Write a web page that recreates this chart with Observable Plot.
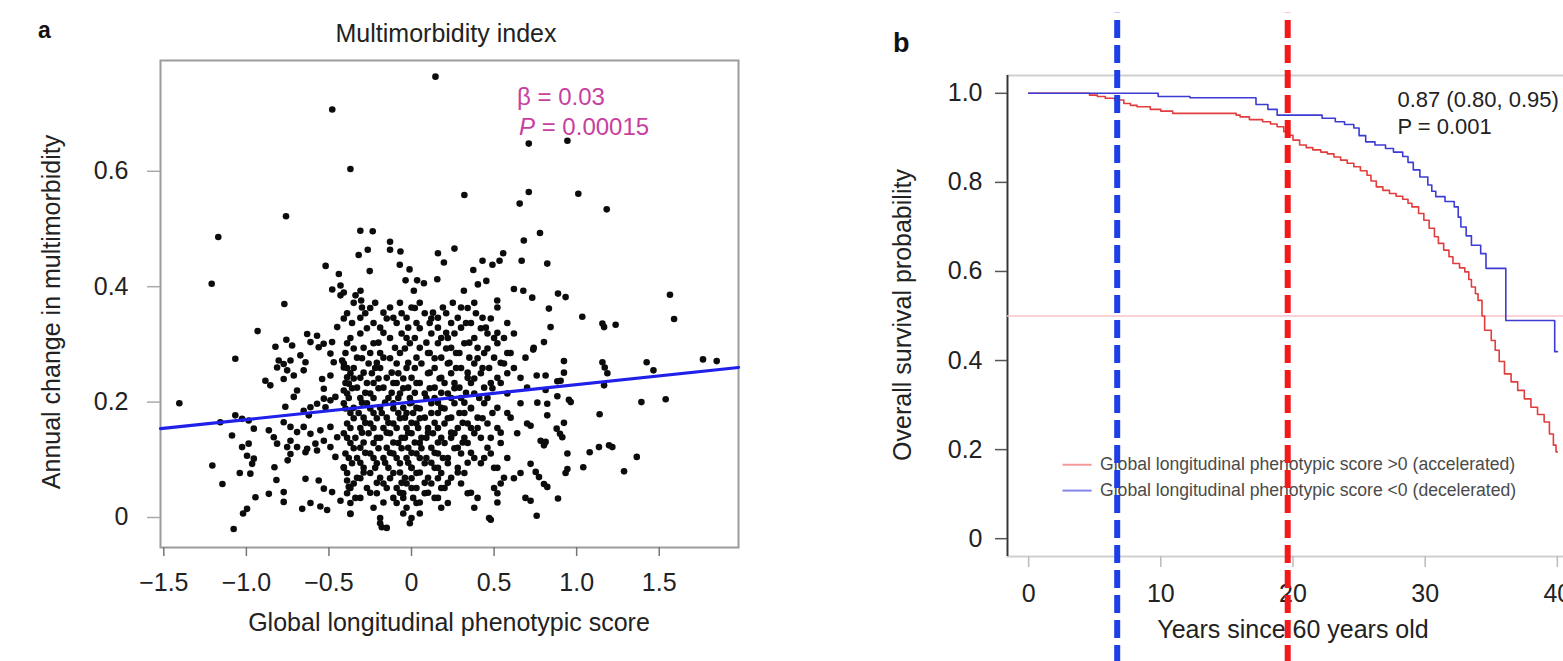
<!DOCTYPE html>
<html><head><meta charset="utf-8">
<script src="https://cdn.jsdelivr.net/npm/d3@7"></script>
<script src="https://cdn.jsdelivr.net/npm/@observablehq/plot@0.6"></script>
<style>
html,body{margin:0;padding:0;background:#fff;overflow:hidden;}
#wrap{position:relative;width:1563px;height:661px;overflow:hidden;font-family:"Liberation Sans",Arial,Helvetica,sans-serif;color:#222;}
.abs{position:absolute;white-space:nowrap;line-height:1;}
.ctr{transform:translate(-50%,-50%);}
.rot{transform:translate(-50%,-50%) rotate(-90deg);}
</style></head><body><div id="wrap"></div>
<script>
// ---------- Panel a data ----------
const scoreTicks = [-1.5, -1, -0.5, 0, 0.5, 1, 1.5];
const changeTicks = [0, 0.2, 0.4, 0.6];
const fitScore = [-1.52, 1.98];
const fitChange = [0.154, 0.260];
const statLines = ["β = 0.03", "P = 0.00015"];

const outlierPoints = [
[-0.48,0.707],[-0.37,0.604],[-0.76,0.522],[-1.17,0.486],[-0.52,0.436],[-0.44,0.422],[-0.43,0.402],[-0.48,0.395],[-0.43,0.385],[-1.21,0.405],[-0.77,0.370],
[0.145,0.764],[0.71,0.648],[0.32,0.559],[0.71,0.564],[0.655,0.544],[-0.31,0.497],[-0.235,0.496],[-0.13,0.478],[-0.13,0.464],[-0.067,0.461],[-0.265,0.464],[-0.32,0.455],[0.16,0.458],[0.26,0.466],[0.196,0.442],[0.555,0.458],[0.533,0.445],[0.49,0.438],[0.43,0.445],[0.374,0.429],[0.68,0.48],[0.778,0.493],[0.667,0.445],[-0.253,0.427],[-0.071,0.438],[-0.012,0.43],[0.156,0.413],[-0.036,0.411],[0.034,0.411],[0.075,0.406],[0.014,0.393],[0.453,0.41],[0.402,0.404],[0.317,0.393],[0.62,0.396],[0.677,0.393],[0.731,0.381],[0.519,0.376],[-0.309,0.393],[-0.339,0.385],[-0.305,0.376],[-0.41,0.39],
[0.944,0.653],[1.01,0.561],[1.182,0.534],[0.822,0.44],[0.887,0.388],[0.933,0.382],[1.565,0.386],[0.832,0.362],
[-0.18,-0.017],[0.48,-0.004]
];
const rightPoints = [
[1.034,0.348],[1.156,0.336],[1.166,0.33],[1.236,0.334],[1.59,0.344],[0.842,0.33],[0.802,0.304],[0.737,0.291],[0.923,0.271],[0.923,0.251],[1.156,0.269],[1.17,0.26],[1.186,0.25],[1.424,0.269],[1.465,0.255],[1.765,0.274],[1.848,0.271],[0.758,0.246],[0.812,0.246],[0.883,0.236],[0.903,0.237],[1.166,0.229],[0.812,0.221],[0.883,0.21],[0.953,0.204],[0.964,0.2],[0.762,0.199],[0.822,0.197],[1.392,0.2],[1.539,0.205],[0.822,0.177],[1.139,0.179],[0.923,0.164],[0.721,0.159],[0.879,0.154],[0.899,0.145],[0.913,0.139],[0.782,0.133],[0.812,0.131],[0.802,0.125],[0.944,0.111],[1.079,0.113],[1.135,0.122],[1.196,0.125],[1.216,0.122],[1.364,0.105],[1.04,0.087],[1.287,0.08],[0.944,0.084],[0.933,0.077],[0.752,0.079],[0.772,0.07],[0.802,0.058],[0.822,0.053],[0.887,0.033],[0.758,0.003],[0.721,0.093],[0.721,0.029]
];
const leftPoints = [
[-0.932,0.323],[-1.067,0.275],[-1.406,0.198],[-0.824,0.296],[-0.758,0.308],[-0.723,0.298],
[-0.632,0.318],[-0.572,0.315],[-0.612,0.304],[-0.562,0.295],[-0.532,0.301],[-0.481,0.304],[-0.491,0.284],[-0.45,0.33],
[-0.804,0.272],[-0.774,0.266],[-0.733,0.272],[-0.814,0.26],[-0.753,0.255],[-0.673,0.281],[-0.642,0.269],[-0.653,0.255],[-0.713,0.246],
[-0.885,0.237],[-0.855,0.229],[-0.774,0.24],[-0.693,0.22],[-0.713,0.209],
[-0.541,0.24],[-0.491,0.246],[-0.531,0.223],[-0.471,0.269],[-0.42,0.272],[-0.41,0.26],
[-0.39,0.243],[-0.38,0.232],[-0.41,0.22],[-0.461,0.209],[-0.491,0.203],[-0.531,0.206],[-0.572,0.197],[-0.521,0.191],[-0.612,0.191],[-0.653,0.185],[-0.622,0.177],
[-0.764,0.192],[-1.067,0.177],[-1.026,0.171],[-0.986,0.168],[-1.158,0.165],[-0.955,0.154],[-0.864,0.151],[-1.087,0.142],
[-0.774,0.165],[-0.733,0.157],[-0.693,0.148],[-0.653,0.157],[-0.612,0.145],[-0.552,0.151],[-0.491,0.157],[-0.45,0.139],[-0.531,0.133],[-0.582,0.128],[-0.632,0.119],[-0.693,0.122],[-0.733,0.133],[-0.753,0.122],[-0.814,0.128],[-0.834,0.139],
[-1.026,0.122],[-0.986,0.128],[-0.996,0.107],[-0.955,0.102],[-0.965,0.093],
[-1.206,0.09],[-1.145,0.058],[-1.04,0.077],[-0.976,0.076],
[-0.83,0.087],[-0.818,0.065],[-0.75,0.099],[-0.733,0.11],[-0.642,0.113],[-0.572,0.116],[-0.491,0.122],[-0.461,0.105],[-0.41,0.087],[-0.39,0.064],
[-0.642,0.067],[-0.562,0.064],[-0.531,0.05],[-0.481,0.044],[-0.43,0.029],[-0.38,0.053],
[-0.945,0.035],[-0.864,0.041],[-0.774,0.044],[-0.774,0.027],
[-0.662,0.015],[-0.612,0.025],[-0.552,0.019],[-0.511,0.013],[-0.37,0.006],
[-0.996,0.015],[-1.02,0.007],[-1.077,-0.02]
];
// dense core, read band by band: [upper change, lower change, [scores...]] (dots alternate between the two levels)
const coreRows = [
[0.372,0.364,[-0.35,-0.30,-0.22,-0.13,-0.07,0.0,0.05,0.19,0.25,0.30,0.38,0.52]],
[0.363,0.355,[-0.25,-0.17,0.02,0.13,0.34]],
[0.354,0.346,[-0.39,-0.31,-0.28,-0.11,-0.06,-0.03,0.08,0.16,0.21,0.28,0.39,0.43]],
[0.345,0.337,[-0.41,-0.23,-0.15,0.03,0.12,0.33,0.48]],
[0.337,0.329,[-0.36,-0.19,-0.09,-0.02,0.11,0.16,0.24,0.30,0.36,0.45,0.58]],
[0.328,0.320,[-0.27,-0.17,0.05,0.21,0.42,0.52]],
[0.319,0.311,[-0.31,-0.13,-0.06,0.02,0.12,0.18,0.26,0.38,0.46,0.56,0.62]],
[0.311,0.303,[-0.37,-0.20,-0.03,0.09,0.22,0.35,0.50]],
[0.302,0.294,[-0.39,-0.29,-0.23,-0.10,-0.01,0.05,0.16,0.24,0.32,0.40,0.52,0.74]],
[0.293,0.285,[-0.35,-0.19,-0.04,0.11,0.21,0.29,0.46,0.58]],
[0.285,0.277,[-0.40,-0.33,-0.25,-0.17,-0.07,0.03,0.10,0.18,0.27,0.35,0.44,0.50,0.60,0.69]],
[0.276,0.268,[-0.30,-0.21,-0.13,-0.02,0.14,0.23,0.40,0.54]],
[0.267,0.259,[-0.41,-0.35,-0.26,-0.19,-0.09,-0.03,0.06,0.14,0.22,0.30,0.38,0.47,0.56,0.62]],
[0.259,0.251,[-0.39,-0.29,-0.22,-0.12,0.02,0.11,0.27,0.34,0.43]],
[0.250,0.242,[-0.37,-0.31,-0.24,-0.15,-0.08,0.0,0.10,0.18,0.24,0.34,0.42,0.52,0.58,0.66]],
[0.241,0.233,[-0.35,-0.27,-0.20,-0.11,-0.05,0.03,0.17,0.26,0.38,0.48]],
[0.233,0.225,[-0.40,-0.33,-0.23,-0.17,-0.09,-0.02,0.05,0.14,0.20,0.29,0.36,0.44,0.54,0.70]],
[0.224,0.216,[-0.36,-0.28,-0.20,-0.12,-0.05,0.02,0.11,0.18,0.26,0.33,0.49]],
[0.215,0.207,[-0.39,-0.31,-0.25,-0.14,-0.07,-0.01,0.08,0.14,0.22,0.30,0.38,0.46,0.58]],
[0.207,0.199,[-0.38,-0.30,-0.23,-0.16,-0.08,0.0,0.09,0.16,0.24,0.32,0.41]],
[0.198,0.190,[-0.41,-0.35,-0.27,-0.19,-0.11,-0.05,-0.01,0.03,0.12,0.18,0.26,0.36,0.44,0.52,0.66]],
[0.189,0.181,[-0.40,-0.32,-0.25,-0.18,-0.11,-0.03,0.05,0.12,0.20,0.29,0.36,0.49]],
[0.181,0.173,[-0.37,-0.29,-0.23,-0.15,-0.08,-0.04,0.01,0.08,0.16,0.24,0.32,0.40,0.58,0.60]],
[0.172,0.164,[-0.35,-0.28,-0.21,-0.14,-0.07,0.0,0.05,0.14,0.22,0.31,0.43]],
[0.163,0.155,[-0.39,-0.31,-0.25,-0.17,-0.11,-0.03,0.03,0.10,0.20,0.28,0.34,0.40,0.46,0.52,0.70]],
[0.155,0.147,[-0.37,-0.30,-0.23,-0.15,-0.09,-0.02,0.04,0.10,0.16,0.24,0.36,0.54]],
[0.146,0.138,[-0.41,-0.34,-0.26,-0.19,-0.13,-0.06,0.0,0.06,0.13,0.18,0.26,0.32,0.38,0.48,0.64]],
[0.138,0.130,[-0.39,-0.29,-0.21,-0.11,-0.04,0.02,0.09,0.16,0.24,0.31,0.42]],
[0.129,0.121,[-0.37,-0.31,-0.23,-0.15,-0.08,-0.02,0.05,0.12,0.20,0.28,0.34,0.46,0.54]],
[0.120,0.112,[-0.35,-0.28,-0.20,-0.13,-0.06,0.0,0.06,0.14,0.26,0.36]],
[0.111,0.103,[-0.40,-0.33,-0.25,-0.17,-0.11,-0.03,0.03,0.09,0.16,0.22,0.30,0.38,0.48,0.58]],
[0.103,0.095,[-0.38,-0.31,-0.23,-0.16,-0.09,-0.02,0.05,0.12,0.19,0.34,0.44]],
[0.094,0.086,[-0.36,-0.29,-0.21,-0.14,-0.07,0.0,0.08,0.14,0.22,0.28,0.42,0.52]],
[0.086,0.078,[-0.41,-0.29,-0.22,-0.07,0.0,0.05,0.16,0.28,0.50]],
[0.077,0.069,[-0.39,-0.33,-0.25,-0.19,-0.11,-0.04,0.03,0.10,0.18,0.24,0.32,0.56,0.66]],
[0.068,0.060,[-0.31,-0.21,-0.13,-0.06,0.0,0.08,0.16,0.22,0.62]],
[0.059,0.051,[-0.35,-0.27,-0.17,-0.09,-0.03,0.03,0.12,0.20,0.30,0.50,0.54]],
[0.051,0.043,[-0.37,-0.25,-0.15,-0.07,0.0,0.10,0.18,0.36]],
[0.042,0.034,[-0.39,-0.31,-0.21,-0.11,-0.05,0.01,0.08,0.16,0.34,0.40,0.52,0.69]],
[0.034,0.026,[-0.34,-0.17,-0.05,0.05,0.14,0.52]],
[0.025,0.017,[-0.37,-0.23,-0.09,-0.03,0.03,0.18,0.22,0.38]],
[0.007,-0.001,[-0.37,-0.19,-0.05,0.0,0.05,0.47]],
[-0.010,-0.018,[-0.19,-0.15,-0.01]]
];

// ---------- Panel b data ----------
const yearTicks = [0, 10, 20, 30, 40];
const survTicks = [0, 0.2, 0.4, 0.6, 0.8, 1.0];
const accelerated = [
[0,1.0],[4.6,0.996],[5.2,0.993],[5.8,0.989],[6.5,0.985],[7.2,0.977],[7.7,0.973],[8.2,0.970],[9.2,0.964],[10.0,0.96],[10.9,0.955],[15.7,0.951],[16.0,0.947],[16.7,0.941],[17.7,0.936],[18.3,0.931],[18.8,0.925],[19.3,0.914],[19.6,0.906],[20.0,0.895],[20.5,0.884],[21.0,0.878],[21.5,0.873],[22.1,0.868],[22.6,0.864],[23.1,0.857],[23.6,0.850],[24.1,0.843],[24.6,0.835],[25.1,0.826],[25.6,0.816],[25.9,0.803],[26.3,0.790],[26.8,0.782],[27.3,0.775],[27.8,0.769],[28.3,0.762],[28.7,0.753],[29.0,0.745],[29.5,0.730],[29.9,0.715],[30.3,0.697],[30.7,0.678],[31.0,0.663],[31.4,0.648],[31.8,0.633],[32.1,0.618],[32.6,0.608],[33.0,0.599],[33.3,0.582],[33.5,0.565],[33.8,0.55],[34.0,0.535],[34.3,0.50],[34.5,0.468],[35.0,0.445],[35.3,0.423],[35.6,0.398],[36.0,0.370],[36.5,0.352],[37.0,0.333],[37.5,0.314],[38.0,0.295],[38.5,0.279],[39.0,0.262],[39.4,0.235],[39.7,0.21],[39.9,0.195],[40.0,0.195]
];
const decelerated = [
[0,1.0],[9.8,0.993],[12.2,0.99],[17.2,0.975],[18.1,0.964],[18.8,0.951],[22.2,0.944],[23.2,0.936],[23.9,0.93],[24.6,0.922],[25.0,0.905],[25.5,0.891],[26.2,0.884],[27.0,0.876],[27.6,0.868],[28.3,0.858],[28.7,0.845],[29.1,0.828],[29.6,0.812],[30.2,0.794],[30.5,0.78],[30.8,0.768],[31.5,0.757],[32.2,0.745],[32.5,0.722],[32.7,0.70],[33.1,0.68],[33.5,0.659],[34.2,0.640],[34.6,0.607],[36.1,0.49],[39.8,0.42],[40.0,0.42]
];
const medianSurvival = [0.5];
const cutoffYears = [6.7, 19.6];
const cutoffColors = ["#1d3fe6", "#f51a1a"];
const cutoffSpan = [-0.28, 1.18];
const legendLabels = ["Global longitudinal phenotypic score >0 (accelerated)", "Global longitudinal phenotypic score <0 (decelerated)"];
const legendColors = ["#f29a9a", "#8585ee"];
const legendY = [0.166, 0.108];
const legendX = [2.6, 4.8, 5.4];
const hrLines = ["0.87 (0.80, 0.95)", "P = 0.001"];
const hrY = [0.985, 0.924];
const hrX = 27.9;

const FONT = '"Liberation Sans", Arial, Helvetica, sans-serif';
const wrap = document.getElementById("wrap");

// ---------- Panel a ----------
const scatter = outlierPoints.concat(rightPoints, leftPoints,
  coreRows.flatMap(([vA, vB, xs]) => xs.map((x, i) => [x, i % 2 ? vB : vA])));
const fmtScore = d => d === 0 ? "0" : d.toFixed(1).replace("-", "\u2212");
const fmtProb = d => d === 0 ? "0" : d.toFixed(1);

const panelA = Plot.plot({
  width: 790, height: 661,
  marginLeft: 160, marginRight: 52, marginTop: 60, marginBottom: 114,
  style: {fontFamily: FONT, fontSize: "25px", color: "#222", background: "transparent", maxWidth: "none", overflow: "visible"},
  x: {domain: [-1.52, 1.98]},
  y: {domain: [-0.052, 0.792]},
  marks: [
    Plot.frame({stroke: "#9c9c9c", strokeWidth: 2}),
    Plot.axisX(scoreTicks, {tickSize: 9, tickPadding: 17, tickFormat: fmtScore, stroke: "#777", strokeWidth: 1.5, label: null, fontSize: 25}),
    Plot.axisY(changeTicks, {tickSize: 13, tickPadding: 19, tickFormat: fmtProb, stroke: "#aaa", strokeWidth: 1.5, label: null, fontSize: 25}),
    Plot.dot(scatter, {x: d => d[0], y: d => d[1], r: 3.3, fill: "#0c0c0c", stroke: null}),
    Plot.line(fitScore.map((s, i) => [s, fitChange[i]]), {x: d => d[0], y: d => d[1], stroke: "#2020ea", strokeWidth: 3.2})
  ]
});
const boxA = document.createElement("div");
boxA.style.cssText = "position:absolute;left:0;top:0;width:790px;height:661px;";
boxA.appendChild(panelA);
wrap.appendChild(boxA);

// ---------- Panel b ----------
const xDomB = [-1.6, 41.6];
const panelB = Plot.plot({
  width: 760, height: 661,
  marginLeft: 157, marginRight: 32, marginTop: 75, marginBottom: 105,
  style: {fontFamily: FONT, fontSize: "25px", color: "#222", background: "transparent", maxWidth: "none", overflow: "visible"},
  x: {domain: xDomB},
  y: {domain: [-0.04, 1.04]},
  marks: [
    Plot.frame({stroke: "#d0d0d0", strokeWidth: 2}),
    Plot.ruleX([xDomB[0]], {stroke: "#333", strokeWidth: 1.8}),
    Plot.axisY(survTicks, {tickSize: 12, tickPadding: 13, tickFormat: fmtProb, stroke: "#555", strokeWidth: 1.5, label: null, fontSize: 25}),
    Plot.axisX(yearTicks, {tickSize: 11, tickPadding: 17, stroke: "#bbb", strokeWidth: 1.5, label: null, fontSize: 25}),
    Plot.ruleY(medianSurvival, {stroke: "#f6c3ca", strokeWidth: 1.5}),
    Plot.line(accelerated, {x: d => d[0], y: d => d[1], curve: "step-after", stroke: "#e23c3c", strokeWidth: 1.6}),
    Plot.line(decelerated, {x: d => d[0], y: d => d[1], curve: "step-after", stroke: "#3c3cd4", strokeWidth: 1.6}),
    Plot.ruleY(legendLabels, {y: (d, i) => legendY[i], x1: legendX[0], x2: legendX[1], stroke: (d, i) => legendColors[i], strokeWidth: 2}),
    Plot.text(legendLabels, {text: d => d, x: legendX[2], y: (d, i) => legendY[i], textAnchor: "start", fill: "#4a4a4a", fontSize: 17.6}),
    Plot.text(hrLines, {text: d => d, x: hrX, y: (d, i) => hrY[i], textAnchor: "start", fill: "#222", fontSize: 22}),
    Plot.text(["Years since 60 years old"], {text: d => d, frameAnchor: "bottom", dy: 81, fontSize: 25, fill: "#222"}),
    Plot.ruleX(cutoffYears, {x: d => d, y1: cutoffSpan[0], y2: cutoffSpan[1], stroke: (d, i) => cutoffColors[i], strokeWidth: 6, strokeDasharray: "18 7"})
  ],
  color: {type: "identity"}
});
const boxB = document.createElement("div");
boxB.style.cssText = "position:absolute;left:850px;top:0;width:760px;height:661px;";
boxB.appendChild(panelB);
wrap.appendChild(boxB);

// ---------- HTML text ----------
function addText(html, css, cls) {
  const d = document.createElement("div");
  d.className = "abs " + (cls || "");
  d.style.cssText = css;
  d.innerHTML = html;
  wrap.appendChild(d);
}
addText("a", "left:38px;top:19px;font-size:23px;font-weight:bold;color:#111;");
addText("b", "left:893px;top:30px;font-size:27px;font-weight:bold;color:#111;");
addText("Multimorbidity index", "left:446px;top:33px;font-size:25px;", "ctr");
addText("Global longitudinal phenotypic score", "left:449px;top:622px;font-size:25px;", "ctr");
addText("Annual change in multimorbidity", "left:51px;top:312px;font-size:25px;", "rot");
addText("Overall survival probability", "left:902px;top:315px;font-size:25px;", "rot");
addText(statLines[0], "left:517px;top:85px;font-size:24px;color:#c8409f;");
addText("<i>P</i>" + statLines[1].slice(1), "left:519px;top:115px;font-size:24px;color:#c8409f;");
</script></body></html>
